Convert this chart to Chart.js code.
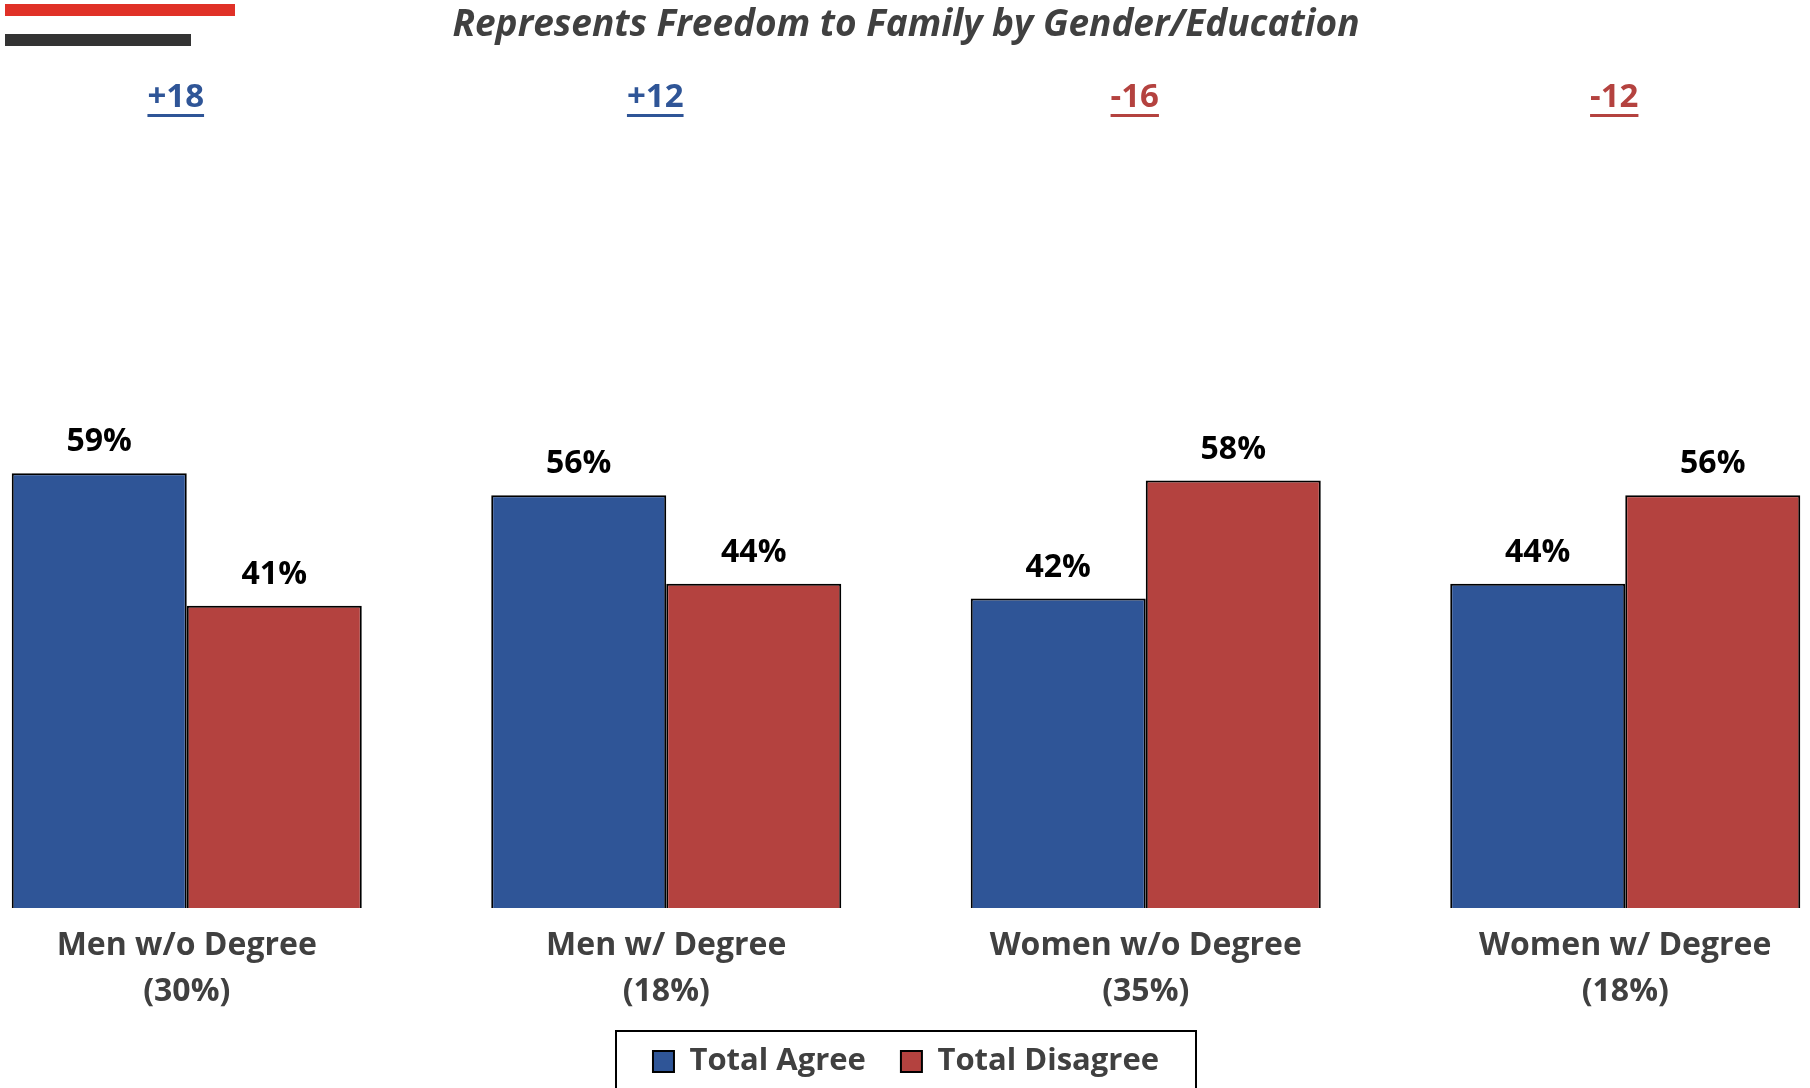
<!DOCTYPE html>
<html>
<head>
<meta charset="utf-8">
<title>Represents Freedom to Family by Gender/Education</title>
<script src="https://cdn.jsdelivr.net/npm/chart.js@4.4.1/dist/chart.umd.min.js"></script>
<style>
  html, body { margin: 0; padding: 0; background: #fff; overflow: hidden; }
  #wrap { position: relative; width: 1810px; height: 1088px; overflow: hidden; }
  /* el canvas es más ancho que la ventana para que los grupos caigan donde en el original */
  #chart { position: absolute; left: -53px; top: 0; }
</style>
</head>
<body>
<div id="wrap">
  <canvas id="chart" width="1918" height="1088"></canvas>
</div>
<script>
// Datos del gráfico
const chartTitle = 'Represents Freedom to Family by Gender/Education';
const categories = [
    ['Men w/o Degree', '(30%)'],
    ['Men w/ Degree', '(18%)'],
    ['Women w/o Degree', '(35%)'],
    ['Women w/ Degree', '(18%)']
];
const seriesNames = ['Total Agree', 'Total Disagree'];
const totalAgree = [59, 56, 42, 44];
const totalDisagree = [41, 44, 58, 56];

const BLUE = '#2F5597';
const RED = '#B4423F';
const TEXT_GRAY = '#404040';
const FONT = "'Open Sans', 'Noto Sans', sans-serif";

// Dibuja título, barras decorativas, diferencias netas, etiquetas y marco de leyenda
const decorPlugin = {
    id: 'decor',
    afterDraw(chart) {
        const ctx = chart.ctx;
        const xScale = chart.scales.x;
        const cx = chart.width / 2;
        ctx.save();

        // barras decorativas arriba a la izquierda
        ctx.fillStyle = '#E03127';
        ctx.fillRect(58, 4, 230, 12);
        ctx.fillStyle = '#333333';
        ctx.fillRect(58, 34, 186, 12);

        // título
        ctx.fillStyle = TEXT_GRAY;
        ctx.font = 'italic bold 37px ' + FONT;
        ctx.textAlign = 'center';
        ctx.textBaseline = 'middle';
        ctx.fillText(chartTitle, cx, 25);

        // diferencia neta sobre cada grupo
        ctx.font = 'bold 33px ' + FONT;
        categories.forEach((c, i) => {
            const net = totalAgree[i] - totalDisagree[i];
            const txt = (net > 0 ? '+' : '') + net;
            const x = xScale.getPixelForValue(i) - 11;
            const y = 98;
            ctx.fillStyle = net >= 0 ? BLUE : RED;
            ctx.fillText(txt, x, y);
            const w = ctx.measureText(txt).width;
            ctx.fillRect(x - w / 2, y + 16, w, 3);
        });

        // etiquetas de valor sobre las barras
        ctx.fillStyle = '#000';
        ctx.font = 'bold 32px ' + FONT;
        chart.data.datasets.forEach((ds, di) => {
            const meta = chart.getDatasetMeta(di);
            meta.data.forEach((bar, i) => {
                ctx.fillText(ds.data[i] + '%', bar.x, bar.y - 31);
            });
        });

        // marco de la leyenda
        ctx.strokeStyle = '#000';
        ctx.lineWidth = 2;
        ctx.strokeRect(cx - 290, 1031, 580, 80);
        ctx.restore();
    }
};

const ctx = document.getElementById('chart').getContext('2d');
new Chart(ctx, {
    type: 'bar',
    data: {
        labels: categories,
        datasets: [
            {
                label: seriesNames[0],
                data: totalAgree,
                backgroundColor: BLUE,
                borderColor: '#000',
                borderWidth: 2
            },
            {
                label: seriesNames[1],
                data: totalDisagree,
                backgroundColor: RED,
                borderColor: '#000',
                borderWidth: 2
            }
        ]
    },
    options: {
        responsive: false,
        animation: false,
        devicePixelRatio: 1,
        layout: {
            padding: { top: 171, bottom: 1, left: 0, right: 0 }
        },
        datasets: {
            bar: {
                categoryPercentage: 0.73,
                barPercentage: 1.0
            }
        },
        scales: {
            x: {
                grid: { display: false, drawTicks: false },
                border: { display: false },
                ticks: {
                    color: TEXT_GRAY,
                    padding: 15,
                    font: { family: FONT, size: 32, weight: 'bold', lineHeight: 1.44 }
                },
                afterFit(scale) {
                    scale.height = 103;
                }
            },
            y: {
                display: false,
                min: 0,
                max: 100
            }
        },
        plugins: {
            legend: {
                position: 'bottom',
                labels: {
                    color: TEXT_GRAY,
                    boxWidth: 21,
                    boxHeight: 21,
                    padding: 35,
                    font: { family: FONT, size: 31, weight: 'bold' }
                }
            },
            title: { display: false },
            tooltip: { enabled: false }
        }
    },
    plugins: [decorPlugin]
});
</script>
</body>
</html>
